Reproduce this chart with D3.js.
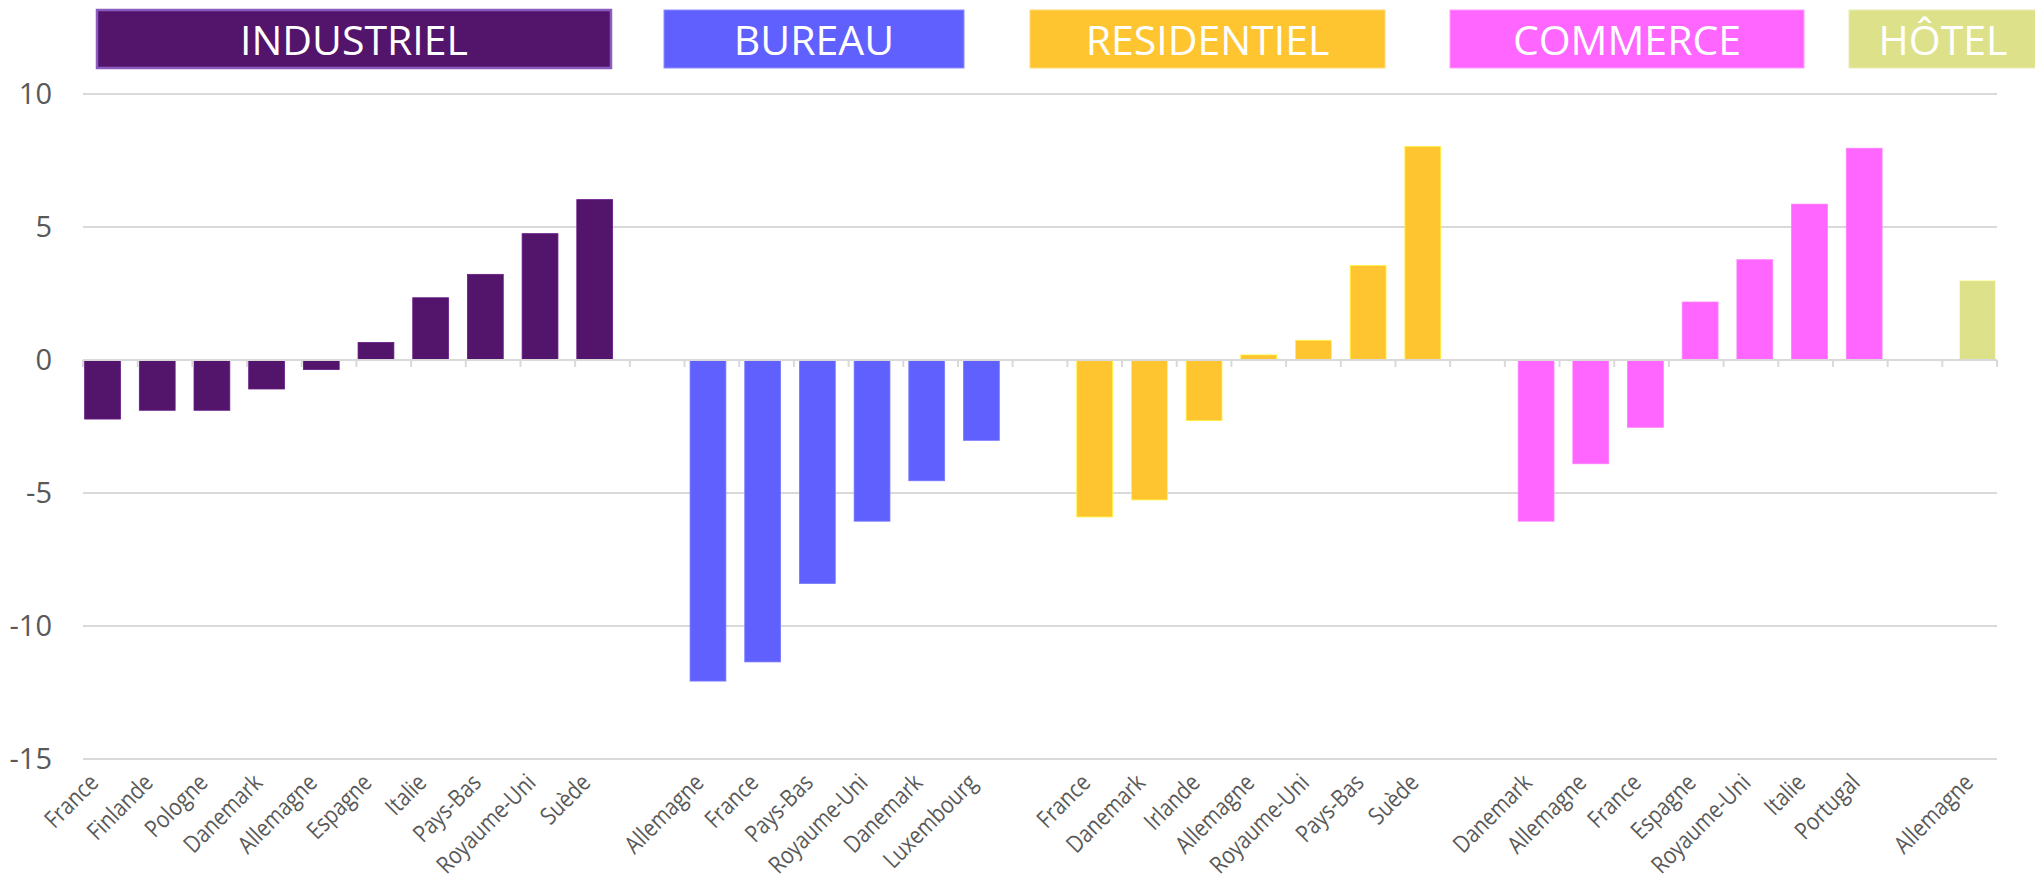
<!DOCTYPE html>
<html>
<head>
<meta charset="utf-8">
<script src="https://cdn.jsdelivr.net/npm/d3@7"></script>
<style>
  html, body { margin: 0; padding: 0; background: #fff; }
  svg { display: block; font-family: "Open Sans", "Noto Sans", sans-serif; }
</style>
</head>
<body>
<svg id="chart" width="2035" height="891"></svg>
<script>
(function (d3) {
    'use strict';

    // --- data ---
    var groups = ['INDUSTRIEL', 'BUREAU', 'RESIDENTIEL', 'COMMERCE', 'HÔTEL'];
    var colors = ['#53146b', '#6060ff', '#ffc530', '#ff66ff', '#dde28a'];

    var industrielPays = ['France', 'Finlande', 'Pologne', 'Danemark', 'Allemagne',
        'Espagne', 'Italie', 'Pays-Bas', 'Royaume-Uni', 'Suède'];
    var industrielValues = [-2.22, -1.89, -1.89, -1.09, -0.36, 0.66, 2.34, 3.22, 4.75, 6.03];

    var bureauPays = ['Allemagne', 'France', 'Pays-Bas', 'Royaume-Uni', 'Danemark', 'Luxembourg'];
    var bureauValues = [-12.07, -11.35, -8.4, -6.06, -4.54, -3.02];

    var residentielPays = ['France', 'Danemark', 'Irlande', 'Allemagne', 'Royaume-Uni', 'Pays-Bas', 'Suède'];
    var residentielValues = [-5.9, -5.26, -2.28, 0.19, 0.74, 3.55, 8.03];

    var commercePays = ['Danemark', 'Allemagne', 'France', 'Espagne', 'Royaume-Uni', 'Italie', 'Portugal'];
    var commerceValues = [-6.06, -3.9, -2.53, 2.18, 3.77, 5.86, 7.96];

    var hotelPays = ['Allemagne'];
    var hotelValues = [2.98];

    var yTicks = [10, 5, 0, -5, -10, -15];

    // --- layout ---
    var plot = { left: 83, right: 1997, top: 94, bottom: 759 };
    var headerBoxes = [
        { x0: 97, x1: 611, stroke: '#8a5cc0', sw: 2.5 },
        { x0: 664, x1: 964, stroke: '#8c8cff', sw: 1 },
        { x0: 1030, x1: 1385, stroke: '#ffd978', sw: 1 },
        { x0: 1450, x1: 1804, stroke: '#ff9cff', sw: 1 },
        { x0: 1849, x1: 2040, stroke: '#e8ebb5', sw: 1 }
    ];

    // flat list of category slots, with one blank slot between groups
    var series = [
        [industrielPays, industrielValues],
        [bureauPays, bureauValues],
        [residentielPays, residentielValues],
        [commercePays, commerceValues],
        [hotelPays, hotelValues]
    ];
    var slots = [];
    series.forEach(function (s, gi) {
        if (gi > 0) {
            slots.push({ key: 'gap' + gi, label: '', value: null, group: null });
        }
        s[0].forEach(function (p, i) {
            slots.push({ key: gi + '-' + i, label: p, value: s[1][i], group: groups[gi] });
        });
    });

    var svg = d3.select('#chart');

    var x = d3.scaleBand()
        .domain(slots.map(function (d) { return d.key; }))
        .range([plot.left, plot.right])
        .paddingInner(0).paddingOuter(0);

    // small per-series shift, like an overlapped clustered column chart
    var shift = d3.scalePoint().domain(groups).range([-7.8, 7.8]);

    var y = d3.scaleLinear().domain([-15, 10]).range([plot.bottom, plot.top]);

    var color = d3.scaleOrdinal().domain(groups).range(colors);

    var barW = x.step() * 0.655;

    function barCenter(d) {
        return x(d.key) + x.step() / 2 + shift(d.group);
    }

    // gridlines
    svg.append('g')
        .selectAll('line')
        .data(yTicks.filter(function (t) { return t !== 0; }))
        .enter()
        .append('line')
        .attr('x1', plot.left)
        .attr('x2', plot.right)
        .attr('y1', function (d) { return y(d); })
        .attr('y2', function (d) { return y(d); })
        .attr('stroke', '#d9d9d9')
        .attr('stroke-width', 2);

    // y labels
    svg.append('g')
        .selectAll('text')
        .data(yTicks)
        .enter()
        .append('text')
        .attr('x', 52)
        .attr('y', function (d) { return y(d); })
        .attr('dy', '0.36em')
        .attr('text-anchor', 'end')
        .attr('fill', '#595959')
        .style('font-size', '29px')
        .text(function (d) { return d; });

    // bars
    svg.append('g')
        .selectAll('rect')
        .data(slots.filter(function (d) { return d.value !== null; }))
        .enter()
        .append('rect')
        .attr('x', function (d) { return barCenter(d) - barW / 2; })
        .attr('width', barW)
        .attr('y', function (d) { return y(Math.max(0, d.value)); })
        .attr('height', function (d) { return Math.abs(y(d.value) - y(0)); })
        .attr('fill', function (d) { return color(d.group); })
        .attr('stroke', function (d) { return d3.color(color(d.group)).brighter(0.6); })
        .attr('stroke-width', 0.8);

    // category axis line + ticks
    var axis = svg.append('g');
    axis.append('line')
        .attr('x1', plot.left).attr('x2', plot.right)
        .attr('y1', y(0)).attr('y2', y(0))
        .attr('stroke', '#d9d9d9').attr('stroke-width', 2);
    var bounds = slots.map(function (d) { return x(d.key); }).concat([plot.right]);
    axis.selectAll('line.tick')
        .data(bounds)
        .enter()
        .append('line')
        .attr('class', 'tick')
        .attr('x1', function (d) { return d; })
        .attr('x2', function (d) { return d; })
        .attr('y1', y(0))
        .attr('y2', y(0) + 7)
        .attr('stroke', '#d9d9d9')
        .attr('stroke-width', 2);

    // rotated category labels (narrowed a little to mimic the original font)
    svg.append('g')
        .selectAll('text')
        .data(slots.filter(function (d) { return d.label; }))
        .enter()
        .append('text')
        .attr('transform', function (d) {
            return 'translate(' + (barCenter(d) - 15) + ',772) rotate(-45)';
        })
        .attr('dy', '0.72em')
        .attr('text-anchor', 'end')
        .attr('fill', '#595959')
        .style('font-size', '24px')
        .text(function (d) { return d.label; })
        .each(function () {
            var len = this.getComputedTextLength();
            d3.select(this)
                .attr('textLength', len * 0.85)
                .attr('lengthAdjust', 'spacingAndGlyphs');
        });

    // group header boxes
    var heads = svg.append('g')
        .selectAll('g')
        .data(headerBoxes)
        .enter()
        .append('g');
    heads.append('rect')
        .attr('x', function (d) { return d.x0; })
        .attr('y', 10)
        .attr('width', function (d) { return d.x1 - d.x0; })
        .attr('height', 58)
        .attr('fill', function (d, i) { return colors[i]; })
        .attr('stroke', function (d) { return d.stroke; })
        .attr('stroke-width', function (d) { return d.sw; });
    heads.append('text')
        .attr('x', function (d, i) { return i === 4 ? 1943 : (d.x0 + d.x1) / 2; })
        .attr('y', 55)
        .attr('text-anchor', 'middle')
        .attr('fill', '#ffffff')
        .style('font-size', '41px')
        .text(function (d, i) { return groups[i]; });

}(window.d3));
</script>
</body>
</html>
